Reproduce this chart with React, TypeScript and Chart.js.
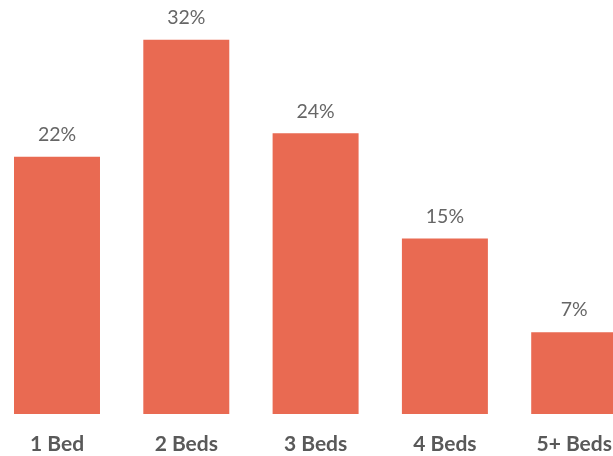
import React, { useEffect, useRef } from "react";
import { Chart, registerables } from "chart.js";

Chart.register(...registerables);

const categories = ["1 Bed", "2 Beds", "3 Beds", "4 Beds", "5+ Beds"];
const shares = [22, 32, 24, 15, 7];
const barColor = "#E96A52";

export default function App() {
  const ref = useRef<HTMLCanvasElement | null>(null);

  useEffect(() => {
    if (!ref.current) return;
    const labelPlugin = {
      id: "valueLabels",
      afterDatasetsDraw(chart: any) {
        const ctx = chart.ctx;
        const meta = chart.getDatasetMeta(0);
        ctx.save();
        ctx.font = "400 19.5px Lato";
        ctx.fillStyle = "#666666";
        ctx.textAlign = "center";
        ctx.textBaseline = "middle";
        meta.data.forEach((bar: any, i: number) => {
          ctx.fillText(shares[i] + "%", bar.x, bar.y - 22);
        });
        ctx.restore();
      },
    };
    const chart = new Chart(ref.current, {
      type: "bar",
      data: {
        labels: categories,
        datasets: [
          {
            data: shares,
            backgroundColor: barColor,
            borderWidth: 0,
            barPercentage: 0.665,
            categoryPercentage: 1,
          },
        ],
      },
      options: {
        responsive: false,
        animation: false,
        layout: { padding: { left: 12.35, right: 21.15, top: 0, bottom: 0 } },
        plugins: { legend: { display: false }, tooltip: { enabled: false } },
        scales: {
          x: {
            grid: { display: false, drawTicks: false },
            border: { display: false },
            afterFit(scale: any) {
              scale.height = 42;
            },
            ticks: {
              padding: 18,
              color: "#595959",
              font: { family: "Lato", size: 21, weight: "bold" },
            },
          },
          y: {
            display: false,
            min: 0,
            max: 35.4,
          },
        },
      },
      plugins: [labelPlugin],
    });
    return () => chart.destroy();
  }, []);

  return (
    <div
      style={{
        position: "fixed",
        left: 0,
        top: 0,
        width: 613,
        height: 456,
        overflow: "hidden",
        background: "#ffffff",
      }}
    >
      <div style={{ position: "absolute", left: -20, top: 0, width: 680, height: 456 }}>
        <canvas ref={ref} width={680} height={456} />
      </div>
    </div>
  );
}
